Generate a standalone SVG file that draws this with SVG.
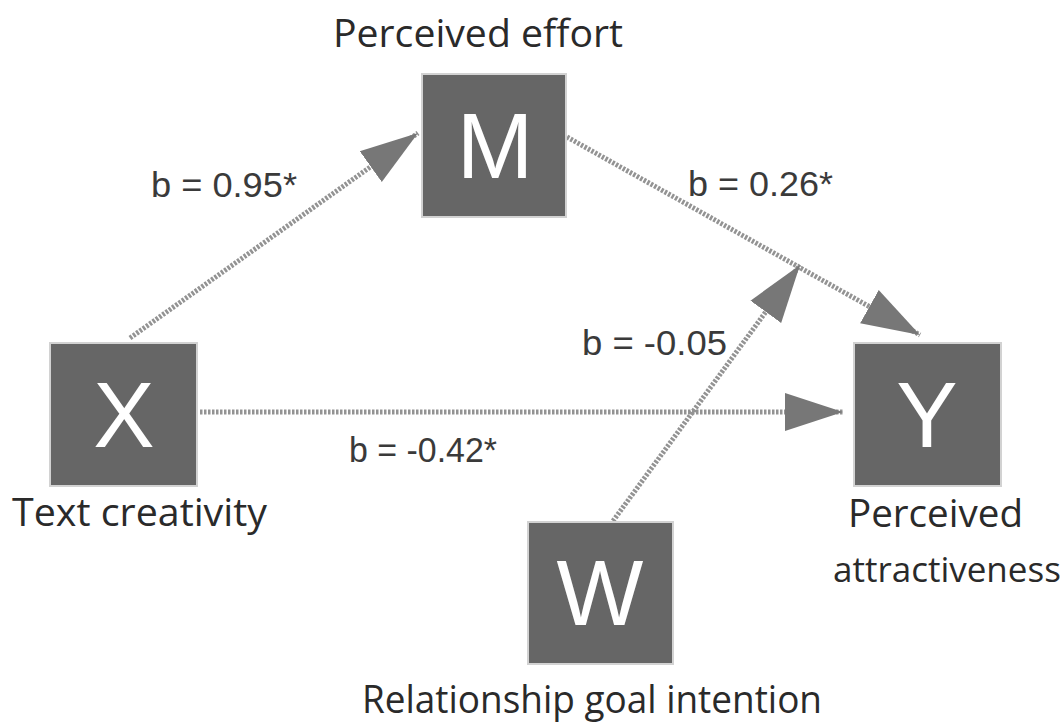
<svg xmlns="http://www.w3.org/2000/svg" width="1062" height="727" viewBox="0 0 1062 727">
<style>
.box{fill:#666;stroke:#d2d2d2;stroke-width:2}
.let{font-family:"Liberation Sans",Arial,sans-serif;font-size:92px;fill:#fff;text-anchor:middle}
.lab{font-family:"Open Sans","Noto Sans",sans-serif;font-size:39px;fill:#2a2a2a}
.eb{font-family:"Liberation Sans",Arial,sans-serif;font-size:35px;fill:#3a3a3a}
.ln{stroke:#939393;stroke-width:5;stroke-dasharray:2.5 1.5;fill:none}
</style>
<defs>
<marker id="a" viewBox="0 0 58 40" refX="58" refY="20" markerWidth="58" markerHeight="40" markerUnits="userSpaceOnUse" orient="auto">
<path d="M0,1 L58,20 L0,39 z" fill="#777"/>
</marker>
</defs>
<g id="connectors">
<line class="ln" x1="130" y1="338" x2="418" y2="133" marker-end="url(#a)"/>
<line class="ln" x1="567" y1="137" x2="920" y2="335" marker-end="url(#a)"/>
<line class="ln" x1="200" y1="412" x2="843" y2="412" marker-end="url(#a)"/>
<line class="ln" x1="613" y1="521" x2="800" y2="265" marker-end="url(#a)"/>
<text class="eb" x="151" y="197" textLength="146" lengthAdjust="spacingAndGlyphs">b = 0.95*</text>
<text class="eb" x="688" y="196" textLength="145" lengthAdjust="spacingAndGlyphs">b = 0.26*</text>
<text class="eb" x="582" y="355" textLength="145" lengthAdjust="spacingAndGlyphs">b = -0.05</text>
<text class="eb" x="349" y="462" textLength="148" lengthAdjust="spacingAndGlyphs">b = -0.42*</text>
</g>
<g id="M">
<rect class="box" x="422" y="74" width="144" height="143"/>
<text class="let" x="495" y="178">M</text>
<text class="lab" x="333" y="47" textLength="290" lengthAdjust="spacingAndGlyphs">Perceived effort</text>
</g>
<g id="X">
<rect class="box" x="50" y="343" width="147" height="143"/>
<text class="let" x="124" y="447">X</text>
<text class="lab" x="12" y="526" textLength="255" lengthAdjust="spacingAndGlyphs">Text creativity</text>
</g>
<g id="Y">
<rect class="box" x="854" y="343" width="147" height="143"/>
<text class="let" x="927" y="447">Y</text>
<text class="lab" x="848" y="527" textLength="175" lengthAdjust="spacingAndGlyphs">Perceived</text>
<text class="lab" x="833" y="582" style="font-size:35px">attractiveness</text>
</g>
<g id="W">
<rect class="box" x="528" y="522" width="145" height="142"/>
<text class="let" x="600" y="625">W</text>
<text class="lab" x="362" y="713" textLength="460" lengthAdjust="spacingAndGlyphs">Relationship goal intention</text>
</g>
</svg>
